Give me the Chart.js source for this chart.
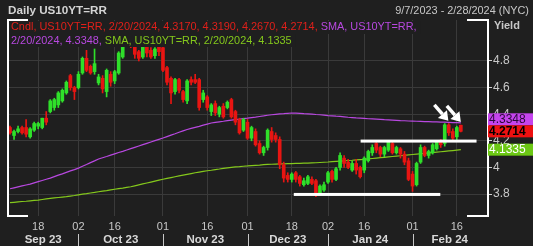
<!DOCTYPE html>
<html>
<head>
<meta charset="utf-8">
<script src="https://cdn.jsdelivr.net/npm/chart.js@4.4.1/dist/chart.umd.min.js"></script>
<style>
html,body{margin:0;padding:0;background:#1f1f1f;overflow:hidden;}
</style>
</head>
<body>
<canvas id="c" width="533" height="246"></canvas>
<script>
/* DATA */
const dates=['9/7/2023','9/8/2023','9/11/2023','9/12/2023','9/13/2023','9/14/2023','9/15/2023','9/18/2023','9/19/2023','9/20/2023','9/21/2023','9/22/2023','9/25/2023','9/26/2023','9/27/2023','9/28/2023','9/29/2023',
'10/2/2023','10/3/2023','10/4/2023','10/5/2023','10/6/2023','10/10/2023','10/11/2023','10/12/2023','10/13/2023','10/16/2023','10/17/2023','10/18/2023','10/19/2023','10/20/2023','10/23/2023','10/24/2023','10/25/2023','10/26/2023','10/27/2023','10/30/2023','10/31/2023',
'11/1/2023','11/2/2023','11/3/2023','11/6/2023','11/7/2023','11/8/2023','11/9/2023','11/10/2023','11/13/2023','11/14/2023','11/15/2023','11/16/2023','11/17/2023','11/20/2023','11/21/2023','11/22/2023','11/24/2023','11/27/2023','11/28/2023','11/29/2023','11/30/2023',
'12/1/2023','12/4/2023','12/5/2023','12/6/2023','12/7/2023','12/8/2023','12/11/2023','12/12/2023','12/13/2023','12/14/2023','12/15/2023','12/18/2023','12/19/2023','12/20/2023','12/21/2023','12/22/2023','12/26/2023','12/27/2023','12/28/2023','12/29/2023',
'1/2/2024','1/3/2024','1/4/2024','1/5/2024','1/8/2024','1/9/2024','1/10/2024','1/11/2024','1/12/2024','1/16/2024','1/17/2024','1/18/2024','1/19/2024','1/22/2024','1/23/2024','1/24/2024','1/25/2024','1/26/2024','1/29/2024','1/30/2024','1/31/2024',
'2/1/2024','2/2/2024','2/5/2024','2/6/2024','2/7/2024','2/8/2024','2/9/2024','2/12/2024','2/13/2024','2/14/2024','2/15/2024','2/16/2024','2/20/2024','2/21/2024','2/22/2024','2/23/2024','2/26/2024','2/27/2024','2/28/2024'];

const open=[
4.30,4.24,4.27,4.30,4.30,4.23,4.28,4.31,4.30,4.37,
4.42,4.45,4.47,4.50,4.56,4.69,4.60,4.60,4.71,4.82,
4.76,4.72,4.635,4.67,4.57,4.70,4.65,4.71,4.83,4.92,
4.99,4.93,4.87,4.83,4.95,4.88,4.84,4.91,4.90,4.75,
4.67,4.57,4.66,4.57,4.50,4.66,4.66,4.66,4.51,4.53,
4.42,4.48,4.40,4.46,4.45,4.51,4.42,4.36,4.28,4.34,
4.22,4.27,4.18,4.11,4.15,4.27,4.24,4.21,4.02,3.94,
3.91,3.96,3.93,3.87,3.88,3.91,3.90,3.81,3.83,3.89,
3.97,3.91,4.00,4.07,4.04,3.98,4.03,4.00,3.98,4.05,
4.11,4.18,4.15,4.10,4.13,4.18,4.11,4.14,4.10,4.05,
3.95,3.87,4.04,4.15,4.09,4.11,4.14,4.19,4.18,4.32,
4.27,4.23,4.3170];
const high=[
4.31,4.28,4.31,4.31,4.36,4.30,4.34,4.34,4.37,4.42,
4.51,4.52,4.57,4.59,4.65,4.70,4.61,4.72,4.83,4.88,
4.77,4.89,4.70,4.69,4.74,4.72,4.73,4.87,4.94,5.00,
5.00,5.02,4.88,4.97,4.96,4.90,4.90,4.94,4.91,4.76,
4.68,4.67,4.67,4.58,4.66,4.68,4.70,4.67,4.58,4.54,
4.48,4.50,4.46,4.48,4.50,4.52,4.43,4.37,4.37,4.36,
4.31,4.29,4.20,4.16,4.29,4.30,4.26,4.23,4.04,3.96,
3.96,3.97,3.94,3.92,3.94,3.93,3.91,3.87,3.89,3.97,
3.98,4.00,4.11,4.09,4.06,4.05,4.06,4.01,4.08,4.13,
4.17,4.19,4.16,4.16,4.20,4.19,4.16,4.15,4.12,4.07,
3.97,4.04,4.17,4.16,4.13,4.18,4.20,4.21,4.33,4.33,
4.29,4.31,4.3190];
const low=[
4.25,4.21,4.26,4.25,4.23,4.22,4.27,4.29,4.29,4.32,
4.41,4.43,4.45,4.49,4.55,4.58,4.51,4.59,4.70,4.72,
4.70,4.70,4.62,4.56,4.53,4.61,4.63,4.70,4.82,4.91,
4.90,4.82,4.80,4.82,4.83,4.82,4.82,4.84,4.72,4.62,
4.48,4.55,4.56,4.49,4.48,4.62,4.63,4.43,4.49,4.43,
4.39,4.39,4.38,4.37,4.44,4.37,4.32,4.25,4.27,4.21,
4.20,4.16,4.10,4.09,4.13,4.19,4.19,3.99,3.89,3.89,
3.89,3.89,3.86,3.86,3.87,3.87,3.78,3.80,3.82,3.88,
3.89,3.90,3.98,4.00,3.99,3.97,3.95,3.92,3.96,4.04,
4.09,4.11,4.08,4.08,4.12,4.10,4.10,4.07,4.02,3.90,
3.82,3.86,4.03,4.08,4.07,4.10,4.13,4.15,4.16,4.24,
4.20,4.21,4.2670];
const close=[
4.26,4.27,4.29,4.26,4.25,4.29,4.33,4.33,4.37,4.34,
4.50,4.51,4.56,4.58,4.64,4.60,4.57,4.70,4.82,4.73,
4.71,4.78,4.68,4.59,4.73,4.64,4.72,4.86,4.92,4.99,
4.92,4.85,4.82,4.95,4.86,4.83,4.89,4.87,4.73,4.64,
4.56,4.66,4.58,4.51,4.65,4.64,4.64,4.45,4.56,4.45,
4.47,4.41,4.45,4.38,4.49,4.38,4.34,4.26,4.36,4.22,
4.30,4.17,4.11,4.15,4.28,4.21,4.21,4.02,3.92,3.91,
3.95,3.91,3.88,3.90,3.93,3.88,3.80,3.86,3.87,3.96,
3.91,3.99,4.09,4.03,4.00,4.03,3.98,3.93,4.07,4.12,
4.15,4.13,4.10,4.15,4.19,4.11,4.15,4.10,4.04,3.91,
3.86,4.03,4.15,4.09,4.12,4.17,4.19,4.17,4.32,4.26,
4.22,4.30,4.2714];

// purple SMA
const smaLong=[
3.840,3.847,3.854,3.861,3.868,3.875,3.884,3.893,3.902,3.911,
3.920,3.931,3.942,3.952,3.963,3.974,3.984,3.995,4.009,4.022,
4.036,4.049,4.063,4.073,4.082,4.092,4.102,4.112,4.121,4.131,
4.141,4.151,4.161,4.171,4.181,4.191,4.201,4.211,4.221,4.232,
4.243,4.253,4.264,4.275,4.285,4.293,4.301,4.309,4.318,4.326,
4.334,4.339,4.343,4.347,4.352,4.356,4.360,4.363,4.367,4.370,
4.374,4.378,4.383,4.387,4.392,4.396,4.399,4.402,4.404,4.407,
4.409,4.408,4.406,4.404,4.403,4.401,4.398,4.396,4.393,4.390,
4.388,4.385,4.383,4.380,4.377,4.375,4.372,4.370,4.368,4.366,
4.365,4.363,4.361,4.359,4.358,4.356,4.354,4.352,4.351,4.349,
4.348,4.347,4.346,4.345,4.344,4.343,4.342,4.341,4.340,4.339,
4.337,4.336,4.3348];
// green SMA
const smaSlow=[
3.735,3.738,3.741,3.744,3.746,3.749,3.752,3.755,3.759,3.763,
3.767,3.771,3.774,3.777,3.780,3.785,3.789,3.794,3.799,3.803,
3.808,3.812,3.817,3.822,3.826,3.831,3.836,3.841,3.845,3.850,
3.855,3.862,3.869,3.876,3.883,3.890,3.897,3.904,3.911,3.918,
3.924,3.930,3.936,3.942,3.948,3.954,3.960,3.965,3.970,3.975,
3.979,3.984,3.988,3.993,3.997,4.001,4.004,4.006,4.009,4.011,
4.014,4.016,4.018,4.021,4.023,4.024,4.025,4.026,4.027,4.028,
4.029,4.030,4.031,4.032,4.033,4.034,4.035,4.037,4.039,4.041,
4.044,4.046,4.048,4.050,4.052,4.054,4.057,4.059,4.061,4.064,
4.067,4.070,4.073,4.076,4.079,4.082,4.085,4.088,4.091,4.094,
4.097,4.100,4.103,4.106,4.109,4.112,4.115,4.118,4.121,4.124,
4.127,4.130,4.1335];

const yTicks=[3.8,4.0,4.2,4.4,4.6,4.8];
const tickIdx=[7,17,26,38,49,59,70,79,88,100,111];
const monthLabels=['Sep 23','Oct 23','Nov 23','Dec 23','Jan 24','Feb 24'];
const monthStart=[0,17,38,59,79,100];

/* drawn annotations (index from, index to, level) and arrow tips */
const hLines=[[70.5,106.9,3.797],[87.1,115.9,4.198]];
const arrowTips=[[108.9,4.35],[112.0,4.342]];

const BG='#1f1f1f', GRID='#3a3a3a', TXT='#c8c8c8';
const UP='#2fe02a', DOWN='#e81512';
const PURPLE='#b848e0', LIME='#84c81c', LEGRED='#e0201a';

const last=close.length-1;
const candleCol=close.map((c,i)=>c>=open[i]?UP:DOWN);

function fitSize(ctx,text,weight,target){
ctx.font=weight+' 20px "Liberation Sans"';
return 20*target/ctx.measureText(text).width;
}

function arrow(ctx,x0,y0,x1,y1){
const a=Math.atan2(y1-y0,x1-x0),hl=9,hw=6;
const bx=x1-hl*Math.cos(a),by=y1-hl*Math.sin(a);
ctx.lineWidth=3.5;ctx.strokeStyle='#fff';ctx.fillStyle='#fff';
ctx.beginPath();ctx.moveTo(x0,y0);ctx.lineTo(bx,by);ctx.stroke();
ctx.beginPath();ctx.moveTo(x1,y1);
ctx.lineTo(bx-hw*Math.sin(a),by+hw*Math.cos(a));
ctx.lineTo(bx+hw*Math.sin(a),by-hw*Math.cos(a));
ctx.closePath();ctx.fill();
}

const bgPlugin={id:'bg',beforeDraw(ch){const c=ch.ctx;c.save();c.fillStyle=BG;c.fillRect(0,0,ch.width,ch.height);c.restore();}};

const overlay={
id:'overlay',
afterDraw(ch){
const ctx=ch.ctx,a=ch.chartArea,xs=ch.scales.x,ys=ch.scales.y;
ctx.save();

// white annotation lines
ctx.fillStyle='#fff';
hLines.forEach(([i0,i1,v])=>{
const y=ys.getPixelForValue(v),x0=xs.getPixelForValue(i0),x1=xs.getPixelForValue(i1);
ctx.fillRect(x0,y-1.5,x1-x0,3);
});
arrowTips.forEach(([i,v])=>{
const x=xs.getPixelForValue(i),y=ys.getPixelForValue(v);
arrow(ctx,x-14,y-16,x,y);
});

// legend rows
const r1a=`Cndl, US10YT=RR, ${dates[last]}, ${open[last].toFixed(4)}, ${high[last].toFixed(4)}, ${low[last].toFixed(4)}, ${close[last].toFixed(4)}, `;
const r1b='SMA, US10YT=RR,';
const r2a=`${dates[last]}, ${smaLong[last].toFixed(4)}, `;
const r2b=`SMA, US10YT=RR, ${dates[last]}, ${smaSlow[last].toFixed(4)}`;
const s=fitSize(ctx,r1a+r1b,'',406);
ctx.font=s+'px "Liberation Sans"';
const w1=ctx.measureText(r1a+r1b).width,w2=ctx.measureText(r2a+r2b).width;
ctx.fillStyle=BG;
ctx.fillRect(a.left+1,a.top+1,w1+6,13);
ctx.fillRect(a.left+1,a.top+14,w2+6,13);
ctx.textBaseline='middle';ctx.textAlign='left';
let x=11;
ctx.fillStyle=LEGRED;ctx.fillText(r1a,x,27);x+=ctx.measureText(r1a).width;
ctx.fillStyle=PURPLE;ctx.fillText(r1b,x,27);
x=11;
ctx.fillStyle=PURPLE;ctx.fillText(r2a,x,41);x+=ctx.measureText(r2a).width;
ctx.fillStyle=LIME;ctx.fillText(r2b,x,41);

// frame
ctx.fillStyle='#fff';
ctx.fillRect(a.left-1,a.top-1,2,a.bottom-a.top+2);
ctx.fillRect(a.right,a.top-1,2,a.bottom-a.top+2);
ctx.fillRect(a.left-1,a.top-1,21,2);
ctx.fillRect(a.left-1,a.bottom-1,21,2);
ctx.fillRect(a.right-20,a.top-1,22,2);
ctx.fillRect(a.right-20,a.bottom-1,22,2);

// title + range
const title='Daily US10YT=RR';
ctx.font='bold '+fitSize(ctx,title,'bold',99)+'px "Liberation Sans"';
ctx.fillStyle='#d4d4d4';ctx.textAlign='left';
ctx.fillText(title,8,11);
const range=`${dates[0]} - ${dates[dates.length-1]} (NYC)`;
ctx.font=fitSize(ctx,range,'',134)+'px "Liberation Sans"';
ctx.fillStyle=TXT;ctx.textAlign='right';
ctx.fillText(range,529,11);
ctx.font='bold 11px "Liberation Sans"';
ctx.textAlign='left';ctx.fillStyle='#c8c8c8';
ctx.fillText('Yield',494,26);

// last value boxes
const h=12;
const yC=ys.getPixelForValue(close[last]);
const yP=Math.min(ys.getPixelForValue(smaLong[last]),yC-h);
const yG=Math.max(ys.getPixelForValue(smaSlow[last]),yC+h);
const boxes=[
[yP,'#c544ee',smaLong[last].toFixed(4),'#2a0838',''],
[yC,'#ee1010',close[last].toFixed(4),'#000','bold '],
[yG,'#6cc814',smaSlow[last].toFixed(4),'#fff','']
];
boxes.forEach(([y,bg,t,fg,wt])=>{
ctx.fillStyle=bg;ctx.fillRect(a.right+1,y-h/2,ch.width-a.right-1,h);
ctx.font=wt+'12px "Liberation Sans"';
ctx.fillStyle=fg;ctx.textAlign='left';ctx.textBaseline='middle';
ctx.fillText(t,a.right+2,y+0.5);
});

// month labels and separators
ctx.font='bold 11.5px "Liberation Sans"';
ctx.textAlign='center';ctx.fillStyle='#d8d8d8';
monthLabels.forEach((m,k)=>{
const xa=k===0?a.left:xs.getPixelForValue(monthStart[k]);
const xb=k===monthLabels.length-1?a.right:xs.getPixelForValue(monthStart[k+1]);
ctx.fillText(m,(xa+xb)/2,240);
if(k>0){ctx.fillStyle=TXT;ctx.fillRect(Math.round(xa),234,1,12);ctx.fillStyle='#d8d8d8';}
});
ctx.restore();
}
};

new Chart(document.getElementById('c'),{
type:'bar',
data:{
labels:dates,
datasets:[
{type:'line',data:smaLong,borderColor:PURPLE,borderWidth:1.2,pointRadius:0,order:4,tension:0},
{type:'line',data:smaSlow,borderColor:LIME,borderWidth:1.2,pointRadius:0,order:3,tension:0},
{data:low.map((l,i)=>[l,high[i]]),backgroundColor:candleCol,barThickness:1,grouped:false,order:2,borderWidth:0},
{data:open.map((o,i)=>[o,close[i]]),backgroundColor:candleCol,barThickness:3,grouped:false,order:1,borderWidth:0,minBarLength:1}
]
},
options:{
responsive:false,
animation:false,
layout:{padding:{left:8,top:20,right:0,bottom:0}},
plugins:{legend:{display:false},tooltip:{enabled:false}},
scales:{
x:{
type:'category',offset:true,
afterBuildTicks:s=>{s.ticks=tickIdx.map(i=>({value:i}));},
afterFit:s=>{s.height=30;},
ticks:{color:TXT,font:{family:'Liberation Sans',size:11},padding:4,maxRotation:0,autoSkip:false,
callback:v=>dates[v].split('/')[1].padStart(2,'0')},
grid:{color:GRID,offset:false,drawTicks:false},
border:{display:false}
},
y:{
position:'right',min:3.635,max:5.108,
afterBuildTicks:s=>{s.ticks=yTicks.map(v=>({value:v}));},
afterFit:s=>{s.width=46;},
ticks:{color:TXT,font:{family:'Liberation Sans',size:12},padding:1,callback:v=>String(+v.toFixed(1))},
grid:{color:GRID,tickColor:'#d0d0d0',tickLength:5},
border:{display:false}
}
}
},
plugins:[bgPlugin,overlay]
});
</script>
</body>
</html>
